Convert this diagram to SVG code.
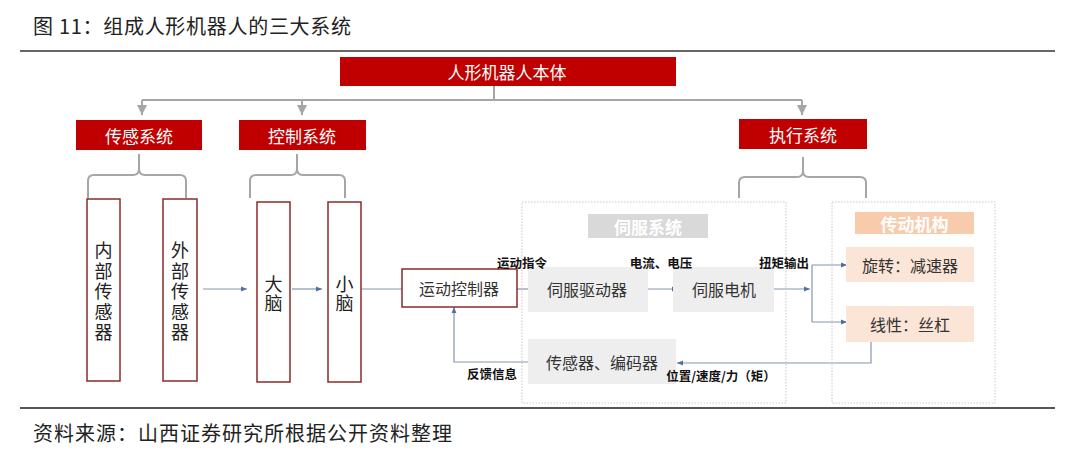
<svg xmlns="http://www.w3.org/2000/svg" width="1080" height="467" viewBox="0 0 1080 467">
<defs>
<style>
.red{fill:#c00000;}
.rt{font-family:"Noto Sans CJK SC",sans-serif;fill:#fff;font-size:17px;text-anchor:middle;dominant-baseline:central;}
.vb{fill:#fff;stroke:#8b2a2a;stroke-width:1.5;}
.vt{font-family:"Noto Sans CJK SC",sans-serif;fill:#222;font-size:18px;text-anchor:middle;writing-mode:vertical-rl;}
.bt{font-family:"Noto Sans CJK SC",sans-serif;fill:#333;font-size:16px;text-anchor:middle;dominant-baseline:central;}
.lb{font-family:"Noto Sans CJK SC",sans-serif;fill:#111;font-size:12.5px;font-weight:bold;}
.gb{fill:#eeeeee;}
.pb{fill:#fbe5d6;}
.dot{fill:none;stroke:#c8c8c8;stroke-width:1;stroke-dasharray:1.5 1.5;}
.tree{fill:none;stroke:#a6a6a6;stroke-width:2;}
.flow{fill:none;stroke:#8497b0;stroke-width:1.2;}
</style>
<marker id="ga" viewBox="0 0 10 10" refX="10" refY="5" markerWidth="5" markerHeight="5" orient="auto">
<path d="M0,0 L10,5 L0,10 z" fill="#a6a6a6"/>
</marker>
<marker id="ba" viewBox="0 0 10 10" refX="10" refY="5" markerWidth="6" markerHeight="6" markerUnits="userSpaceOnUse" orient="auto">
<path d="M0,1 L10,5 L0,9 z" fill="#4f6fa3"/>
</marker>
</defs>
<rect width="1080" height="467" fill="#fff"/>

<g id="title">
<text x="33" y="34" font-family="Noto Sans CJK SC,sans-serif" font-size="20" fill="#222" textLength="318" lengthAdjust="spacing">图 11：组成人形机器人的三大系统</text>
<line x1="20" y1="51" x2="1055" y2="51" stroke="#666" stroke-width="2"/>
<line x1="20" y1="408" x2="1055" y2="408" stroke="#555" stroke-width="2"/>
<text x="33" y="441" font-family="Noto Sans CJK SC,sans-serif" font-size="20" fill="#222" textLength="419" lengthAdjust="spacing">资料来源：山西证券研究所根据公开资料整理</text>
</g>

<g id="connectors">
<path class="tree" d="M494,86 V100 M142,100 H802"/>
<path class="tree" d="M142,100 V115" marker-end="url(#ga)"/>
<path class="tree" d="M302,100 V115" marker-end="url(#ga)"/>
<path class="tree" d="M802,100 V115" marker-end="url(#ga)"/>
<path class="tree" d="M88,198 V181 Q88,175 94,175 H133 Q139,175 139,169 V154 M139,169 Q139,175 145,175 H180 Q186,175 186,181 V198"/>
<path class="tree" d="M250,198 V181 Q250,175 256,175 H291 Q297,175 297,169 V154 M297,169 Q297,175 303,175 H339 Q345,175 345,181 V198"/>
<path class="tree" d="M739,198 V183 Q739,177 745,177 H797 Q803,177 803,171 V157 M803,171 Q803,177 809,177 H860 Q866,177 866,183 V198"/>
<path class="flow" d="M203,289 H247" marker-end="url(#ba)"/>
<path class="flow" d="M292,289 H322" marker-end="url(#ba)"/>
<path class="flow" d="M361,289 H402"/>
<path class="flow" d="M517,289 H535" marker-end="url(#ba)"/>
<path class="flow" d="M644,289 H678" marker-end="url(#ba)"/>
<path class="flow" d="M774,289 H810" marker-end="url(#ba)"/>
<path class="flow" d="M812,265 V322"/>
<path class="flow" d="M812,265 H847" marker-end="url(#ba)"/>
<path class="flow" d="M812,322 H847" marker-end="url(#ba)"/>
<path class="flow" d="M871,342 V363 H677" marker-end="url(#ba)"/>
<path class="flow" d="M528,362 H454 V307" marker-end="url(#ba)"/>
</g>

<g id="root">
<rect class="red" x="340" y="57" width="336" height="29"/>
<text class="rt" x="507" y="71.5" font-size="18">人形机器人本体</text>
</g>
<g id="sense">
<rect class="red" x="76" y="120" width="126" height="30"/>
<text class="rt" x="139" y="135">传感系统</text>
</g>
<g id="control">
<rect class="red" x="239" y="120" width="127" height="30"/>
<text class="rt" x="302" y="135">控制系统</text>
</g>
<g id="exec">
<rect class="red" x="739" y="119" width="128" height="30"/>
<text class="rt" x="803" y="134">执行系统</text>
</g>

<g id="inner-sensor">
<rect class="vb" x="87" y="199" width="33" height="182"/>
<text class="vt" x="103.5" y="292.5" letter-spacing="2.5">内部传感器</text>
</g>
<g id="outer-sensor">
<rect class="vb" x="163" y="199" width="34" height="182"/>
<text class="vt" x="180" y="292.5" letter-spacing="2.5">外部传感器</text>
</g>
<g id="brain">
<rect class="vb" x="257" y="202" width="33" height="180"/>
<text class="vt" x="273.5" y="294.5" letter-spacing="1">大脑</text>
</g>
<g id="cerebellum">
<rect class="vb" x="328" y="202" width="33" height="180"/>
<text class="vt" x="344.5" y="294.5" letter-spacing="1">小脑</text>
</g>

<g id="motion-controller">
<rect class="vb" x="402" y="269" width="115" height="38"/>
<text class="bt" x="459" y="288">运动控制器</text>
</g>

<g id="servo-system">
<rect class="dot" x="522" y="202" width="264" height="201"/>
<rect x="588" y="214" width="120" height="24" fill="#d9d9d9"/>
<text class="rt" x="648" y="226" font-weight="bold">伺服系统</text>
</g>
<g id="servo-driver">
<rect class="gb" x="528" y="267" width="120" height="45"/>
<text class="bt" x="587" y="289">伺服驱动器</text>
</g>
<g id="servo-motor">
<rect class="gb" x="673" y="267" width="101" height="45"/>
<text class="bt" x="724" y="289">伺服电机</text>
</g>
<g id="sensor-encoder">
<rect class="gb" x="528" y="339" width="148" height="45"/>
<text class="bt" x="602" y="362">传感器、编码器</text>
</g>

<g id="transmission">
<rect class="dot" x="832" y="202" width="163" height="201"/>
<rect x="855" y="212" width="119" height="22" fill="#f8cbad"/>
<text class="rt" x="914.5" y="223" font-weight="bold">传动机构</text>
</g>
<g id="reducer">
<rect class="pb" x="846" y="247" width="128" height="35"/>
<text class="bt" x="910" y="265">旋转：减速器</text>
</g>
<g id="screw">
<rect class="pb" x="846" y="306" width="128" height="36"/>
<text class="bt" x="910" y="324">线性：丝杠</text>
</g>

<g id="labels">
<text class="lb" x="522" y="268" text-anchor="middle">运动指令</text>
<text class="lb" x="661" y="268" text-anchor="middle">电流、电压</text>
<text class="lb" x="784" y="268" text-anchor="middle">扭矩输出</text>
<text class="lb" x="492" y="379" text-anchor="middle">反馈信息</text>
<text class="lb" x="721" y="381" text-anchor="middle">位置/速度/力（矩）</text>
</g>
</svg>
